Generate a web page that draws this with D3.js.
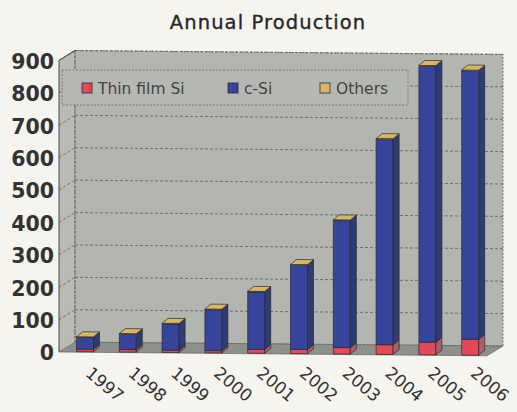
<!DOCTYPE html>
<html>
<head>
<meta charset="utf-8">
<script src="https://cdn.jsdelivr.net/npm/d3@7"></script>
<style>
  html, body { margin: 0; padding: 0; background: #f6f4ef; }
  svg { display: block; }
  text { font-family: "DejaVu Sans", sans-serif; }
</style>
</head>
<body>
<svg id="chart" width="517" height="412"></svg>
<script>
// Annual production by technology (MW)
const years = ["1997", "1998", "1999", "2000", "2001", "2002", "2003", "2004", "2005", "2006"];
const thinFilmSi = [8, 8, 7, 7, 12, 13, 20, 30, 39, 49];
const cSi = [36, 47, 81, 126, 177, 260, 392, 633, 851, 828];
const others = [2, 2, 2, 2, 2, 2, 2, 3, 3, 3];
const seriesNames = ["Thin film Si", "c-Si", "Others"];
const yTicks = [0, 100, 200, 300, 400, 500, 600, 700, 800, 900];

const colors = {
  "Thin film Si": { front: "#e04a5c", side: "#a9606a" },
  "c-Si": { front: "#36449b", side: "#2e3b74" },
  "Others": { front: "#d9b66a", side: "#b09a5e" }
};

const svg = d3.select("#chart");

// Title
svg.append("text")
  .attr("x", 268).attr("y", 29)
  .attr("text-anchor", "middle")
  .attr("font-size", 19.5)
  .attr("letter-spacing", 1.1)
  .attr("fill", "#262626")
  .attr("stroke", "#262626").attr("stroke-width", 0.35)
  .text("Annual Production");

// 3D frame geometry
const x0 = 59, x1 = 487;            // front floor edge
const wallDx = 16, wallDy = -10;    // depth of the box
const slope = 0.009;                // slight perspective tilt of horizontals

const x = d3.scaleBand().domain(years).range([x0, x1]).padding(0);
const y = d3.scaleLinear().domain([0, 900]).range([352, 60.4]);

// Plot group with a light skew so horizontals drop toward the right
const plot = svg.append("g")
  .attr("transform", `matrix(1,${slope},0,1,0,${-slope * x0})`);

const yTop = y(900), yBase = y(0);

// Left side wall
plot.append("polygon")
  .attr("points", [[x0, yBase], [x0 + wallDx, yBase + wallDy], [x0 + wallDx, yTop + wallDy], [x0, yTop]].join(" "))
  .attr("fill", "#b8bab6");

// Back wall
plot.append("rect")
  .attr("x", x0 + wallDx).attr("y", yTop + wallDy)
  .attr("width", x1 - x0).attr("height", yBase - yTop)
  .attr("fill", "#b3b5b1")
  .attr("stroke", "#5a5a5a").attr("stroke-width", 0.8)
  .attr("stroke-dasharray", "2,1.5");

// Floor
plot.append("polygon")
  .attr("points", [[x0, yBase], [x1, yBase], [x1 + wallDx, yBase + wallDy], [x0 + wallDx, yBase + wallDy]].join(" "))
  .attr("fill", "#8e908c")
  .attr("stroke", "#555").attr("stroke-width", 0.6);

// Gridlines on back wall and side wall
const grid = plot.append("g").attr("fill", "none")
  .attr("stroke", "#5e5e5e").attr("stroke-width", 0.8).attr("stroke-dasharray", "3,2");
yTicks.filter(v => v > 0).forEach(v => {
  grid.append("line")
    .attr("x1", x0 + wallDx).attr("x2", x1 + wallDx)
    .attr("y1", y(v) + wallDy).attr("y2", y(v) + wallDy);
  grid.append("line")
    .attr("x1", x0).attr("x2", x0 + wallDx)
    .attr("y1", y(v)).attr("y2", y(v) + wallDy);
});
plot.append("line")
  .attr("x1", x0 + wallDx).attr("x2", x0 + wallDx)
  .attr("y1", yTop + wallDy).attr("y2", yBase + wallDy)
  .attr("stroke", "#5e5e5e").attr("stroke-width", 0.8).attr("stroke-dasharray", "3,2");

// Value axis line
plot.append("line")
  .attr("x1", x0).attr("x2", x0)
  .attr("y1", yTop).attr("y2", yBase)
  .attr("stroke", "#4a4a4a").attr("stroke-width", 1);
plot.append("line")
  .attr("x1", x0).attr("x2", x0 + wallDx)
  .attr("y1", yTop).attr("y2", yTop + wallDy)
  .attr("stroke", "#4a4a4a").attr("stroke-width", 1);

// Stacked 3D columns
const rows = years.map((yr, i) => ({
  year: yr, "Thin film Si": thinFilmSi[i], "c-Si": cSi[i], "Others": others[i]
}));
const stacked = d3.stack().keys(seriesNames)(rows);

const barW = 17, barShift = 4.6, barLift = -0.5;
const sideDx = 6, sideDy = -5;
const barY = v => y(v) + barLift;
const barLeft = yr => x(yr) + x.bandwidth() / 2 + barShift - barW / 2;

const bars = plot.append("g").attr("stroke", "#2a2a2a").attr("stroke-width", 0.7)
  .attr("stroke-linejoin", "round");

stacked.forEach(layer => {
  const c = colors[layer.key];
  layer.forEach(seg => {
    const yr = seg.data.year;
    const l = barLeft(yr), r = l + barW;
    const yb = barY(seg[0]), yt = barY(seg[1]);
    bars.append("rect")
      .attr("x", l).attr("y", yt)
      .attr("width", barW).attr("height", yb - yt)
      .attr("fill", c.front);
    bars.append("polygon")
      .attr("points", [[r, yt], [r + sideDx, yt + sideDy], [r + sideDx, yb + sideDy], [r, yb]].join(" "))
      .attr("fill", c.side);
  });
});

// Top faces take the colour of the uppermost series
const topLayer = stacked[stacked.length - 1];
topLayer.forEach(seg => {
  const l = barLeft(seg.data.year), r = l + barW;
  const yt = barY(seg[1]);
  bars.append("polygon")
    .attr("points", [[l, yt], [l + sideDx, yt + sideDy], [r + sideDx, yt + sideDy], [r, yt]].join(" "))
    .attr("fill", "#d6b56c");
});

// Value axis labels
svg.append("g").selectAll("text")
  .data(yTicks)
  .join("text")
  .attr("x", 54)
  .attr("y", d => y(d) + 1)
  .attr("dy", "0.36em")
  .attr("text-anchor", "end")
  .attr("font-size", 20.5)
  .attr("font-weight", "bold")
  .attr("fill", "#333")
  .text(d => d);

// Category labels, rotated
svg.append("g").selectAll("text")
  .data(years)
  .join("text")
  .attr("transform", d => `translate(${x(d) + x.bandwidth() / 2 + 4},${375}) rotate(40)`)
  .attr("font-size", 17)
  .attr("fill", "#333")
  .text(d => d);

// Legend
const legend = svg.append("g");
legend.append("rect")
  .attr("x", 62).attr("y", 70).attr("width", 346).attr("height", 35)
  .attr("fill", "#b5b7b3")
  .attr("stroke", "#6a6a6a").attr("stroke-width", 0.8).attr("stroke-dasharray", "2,1.5");
const legendX = [82, 228, 320];
seriesNames.forEach((name, i) => {
  legend.append("rect")
    .attr("x", legendX[i]).attr("y", 83).attr("width", 10).attr("height", 10)
    .attr("fill", colors[name].front)
    .attr("stroke", "#2a2a2a").attr("stroke-width", 0.8);
  legend.append("text")
    .attr("x", legendX[i] + 16).attr("y", 94)
    .attr("font-size", 15.5)
    .attr("fill", "#444")
    .text(name);
});
</script>
</body>
</html>
